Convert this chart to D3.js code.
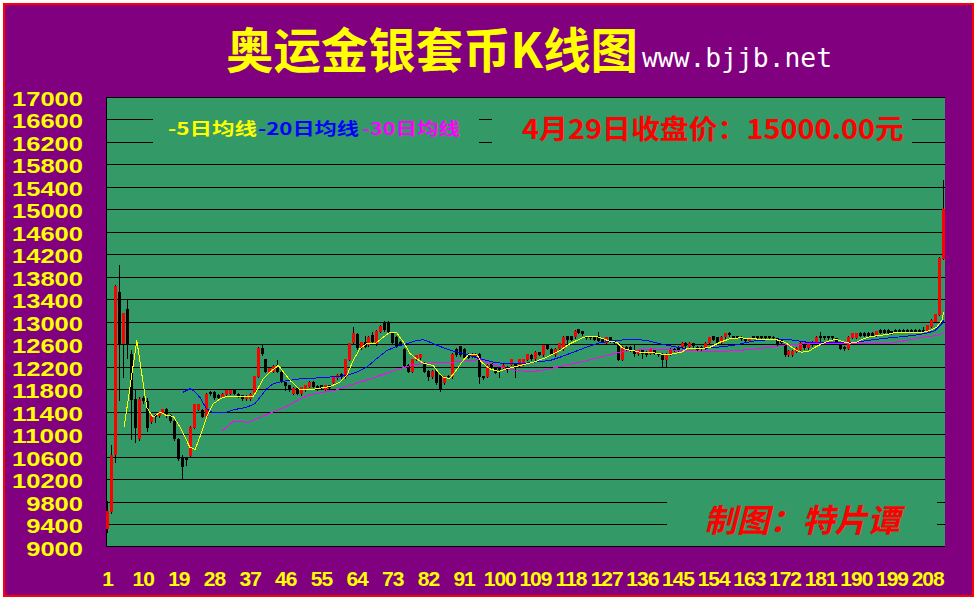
<!DOCTYPE html>
<html><head><meta charset="utf-8">
<script src="https://cdn.jsdelivr.net/npm/d3@7"></script>
<style>html,body{margin:0;padding:0;background:#fff;overflow:hidden}</style>
</head><body>
<svg id="c" width="977" height="600"></svg>
<script>
const opens = [
9310,9620,10620,13530,12600,13220,12420,11620,10920,11640,
11590,11220,11330,11320,11380,11440,11340,11240,10920,10600,
10580,10610,11110,11430,11430,11310,11740,11750,11700,11660,
11700,11720,11780,11720,11690,11620,11620,11720,12020,12530,
12330,12110,12110,12230,12110,11920,11870,11720,11820,11710,
11780,11840,11930,11860,11870,11780,11870,11910,11990,12070,
12010,12320,12610,12780,12530,12640,12580,12760,12600,12820,
12970,12970,12790,12730,12640,12520,12230,12110,12320,12350,
12270,12120,12010,12140,12050,11900,12040,12010,12520,12560,
12520,12430,12380,12380,12430,12030,12020,12260,12180,12200,
12170,12200,12230,12260,12220,12230,12320,12410,12330,12450,
12400,12580,12520,12400,12510,12510,12740,12740,12720,12860,
12830,12740,12740,12740,12740,12700,12610,12720,12660,12610,
12320,12550,12550,12500,12420,12500,12460,12430,12490,12430,
12430,12320,12420,12520,12550,12540,12620,12540,12610,12550,
12550,12520,12610,12740,12720,12610,12720,12800,12740,12740,
12730,12700,12660,12740,12740,12740,12740,12740,12730,12700,
12680,12580,12400,12400,12460,12500,12580,12530,12640,12620,
12740,12740,12740,12740,12700,12580,12550,12520,12710,12710,
12800,12800,12800,12800,12750,12850,12850,12850,12830,12850,
12850,12850,12850,12850,12850,12850,12850,12820,12910,13000,
13120,14120];
const highs = [
9810,10800,13650,14000,13150,13380,12490,11780,11660,11680,
11640,11340,11350,11400,11450,11460,11350,11250,10930,10620,
10600,11140,11540,11540,11440,11730,11760,11760,11710,11730,
11790,11790,11790,11730,11700,11690,11730,12040,12540,12580,
12340,12190,12220,12310,12120,11930,11880,11830,11830,11840,
11880,11940,11940,11870,11880,11880,11880,12030,12060,12080,
12340,12620,12900,12790,12640,12740,12740,12810,12850,12930,
13010,13010,12800,12740,12650,12530,12240,12340,12410,12430,
12280,12130,12130,12150,12060,12040,12050,12440,12530,12570,
12530,12440,12440,12440,12440,12040,12240,12270,12190,12210,
12240,12210,12340,12270,12340,12340,12430,12420,12470,12460,
12590,12590,12530,12530,12620,12740,12750,12750,12850,12870,
12840,12750,12750,12750,12810,12710,12730,12730,12670,12620,
12560,12560,12560,12580,12510,12510,12470,12530,12500,12440,
12440,12440,12530,12530,12560,12630,12630,12630,12620,12560,
12560,12630,12730,12750,12730,12740,12800,12810,12750,12750,
12740,12710,12710,12750,12750,12750,12750,12750,12740,12710,
12690,12590,12490,12490,12540,12630,12590,12630,12650,12740,
12810,12750,12750,12750,12710,12590,12560,12740,12800,12800,
12810,12810,12810,12810,12840,12860,12860,12860,12840,12860,
12860,12860,12860,12860,12860,12860,12910,12940,13040,13140,
14140,15520];
const lows = [
9260,9600,10510,11600,12020,12350,10920,10860,10900,11560,
11050,11200,11220,11300,11370,11300,11220,10900,10540,10200,
10450,10600,11100,11420,11300,11300,11700,11630,11630,11650,
11690,11710,11710,11650,11610,11610,11610,11710,12010,12410,
12100,12100,12100,12100,11920,11780,11770,11710,11710,11700,
11770,11830,11830,11790,11800,11770,11800,11900,11980,12000,
12000,12310,12600,12520,12520,12540,12570,12630,12590,12810,
12840,12810,12600,12540,12580,12200,12100,12100,12310,12340,
12100,11960,12000,11890,11770,11890,12000,12000,12390,12390,
12350,12350,12370,12370,11910,11980,12010,12180,12080,12020,
12160,12110,12220,12020,12210,12220,12310,12320,12320,12400,
12390,12510,12420,12390,12500,12500,12580,12670,12710,12790,
12760,12690,12690,12670,12650,12630,12600,12630,12600,12310,
12310,12500,12480,12390,12410,12360,12390,12420,12420,12390,
12210,12210,12410,12480,12480,12530,12550,12530,12550,12490,
12500,12510,12600,12670,12600,12600,12710,12750,12700,12700,
12680,12650,12650,12700,12700,12700,12700,12700,12690,12590,
12610,12390,12390,12390,12450,12490,12520,12520,12570,12610,
12620,12690,12690,12690,12610,12510,12500,12510,12700,12700,
12740,12740,12740,12740,12740,12790,12790,12790,12780,12810,
12810,12810,12810,12810,12810,12810,12810,12810,12900,12990,
13110,14110];
const closes = [
9630,10620,13640,12600,13150,12600,11600,11110,11620,11580,
11110,11330,11310,11390,11440,11360,11230,10920,10560,10420,
10530,11130,11530,11530,11310,11720,11710,11640,11640,11720,
11780,11780,11720,11660,11620,11680,11720,12030,12530,12420,
12110,12180,12210,12110,11930,11860,11780,11820,11720,11830,
11870,11930,11840,11800,11810,11870,11810,12020,12050,12010,
12330,12610,12790,12530,12630,12550,12730,12640,12840,12920,
12850,12820,12610,12550,12590,12210,12110,12330,12400,12420,
12110,12010,12120,11900,11780,12030,12010,12430,12400,12400,
12360,12360,12430,12430,12020,11990,12230,12190,12090,12140,
12230,12140,12330,12200,12330,12330,12420,12330,12460,12410,
12580,12520,12430,12520,12610,12730,12680,12680,12840,12800,
12770,12700,12700,12680,12660,12640,12720,12640,12610,12320,
12550,12510,12490,12420,12500,12430,12400,12520,12430,12400,
12320,12430,12520,12490,12490,12620,12560,12620,12560,12500,
12510,12620,12720,12680,12610,12730,12790,12760,12710,12710,
12690,12660,12700,12710,12710,12710,12710,12710,12700,12600,
12620,12400,12480,12480,12530,12620,12530,12620,12580,12730,
12700,12700,12700,12700,12620,12520,12510,12730,12790,12790,
12750,12750,12750,12750,12830,12800,12800,12800,12790,12820,
12820,12820,12820,12820,12820,12820,12820,12930,13030,13130,
14130,15000];

// moving-average lines as (candle position, price)
const ma5Idx = [5.2,8.4,10.9,12.5,14.3,15.9,17.6,19.3,21.8,23.1,24.3,26,27.7,29.4,31.1,34.4,37.8,38.7,40.3,42,44.1,47.1,49.6,52.1,54.6,57.2,59.7,61.4,63,64.7,66.4,68.5,70.6,72.3,74,75.7,77.4,79,80.7,83.2,84.5,85.8,87.4,88.7,90.4,92.1,94.2,95.4,97.5,99.6,101.8,105.1,108.5,111.9,115.2,117.7,120.3,121.9,124.5,126.1,127.8,129.5,130.8,132,133.7,135.4,137.9,140.4,142.1,143.8,145.9,147.2,150.5,153.1,155.6,158.1,160.6,166.5,169.9,172,173.7,175,176.2,177.9,179.6,181.3,183.4,185,187.1,188.4,190.1,191.8,193.5,196,198.5,200.2,206.9,208.6,210.3,211.6,212];
const ma5Val = [11130,12670,11485,11308,11396,11338,11325,11130,10774,10733,10952,11308,11546,11635,11681,11681,11681,11782,11990,12108,12227,11960,11795,11795,11823,11853,11930,12049,12316,12524,12613,12613,12730,12819,12808,12641,12435,12346,12268,12227,12108,12008,12001,12108,12285,12417,12422,12285,12168,12120,12168,12227,12285,12374,12493,12613,12701,12742,12742,12701,12659,12641,12552,12506,12493,12463,12463,12435,12417,12435,12463,12524,12524,12552,12641,12701,12719,12689,12684,12641,12552,12493,12463,12476,12552,12613,12671,12689,12641,12623,12641,12701,12742,12760,12790,12819,12819,12849,12908,13027,13174];
const ma20Idx = [20.1,21.8,22.7,24.3,26,27.3,31.1,32.8,36.1,38.2,39.5,41.2,42.8,45.4,49.6,54.6,58.9,61.4,63.9,66.4,68.9,71.5,74,76.5,79,80.7,82.4,84.9,88.3,91.7,95,98.4,101.8,105.1,108.5,112.7,115.2,118.6,121.9,125.3,128.7,132,135.4,137.9,140.4,143.8,147.2,150.5,154.8,158.9,161.5,164.9,169,172.8,177.5,181.7,185.9,190.1,192.6,196,200.2,204.4,207.8,209.9,211.6,212];
const ma20Val = [11752,11813,11782,11663,11457,11396,11396,11439,11485,11546,11663,11813,11901,11948,11990,12008,12031,12049,12108,12197,12346,12493,12565,12613,12671,12684,12641,12565,12481,12422,12346,12285,12257,12257,12285,12316,12374,12463,12552,12630,12671,12684,12684,12659,12613,12565,12524,12524,12552,12582,12623,12671,12689,12689,12641,12641,12630,12641,12671,12701,12730,12760,12801,12849,12968,13027];
const ma30Idx = [30,31.5,32.8,35.3,36.1,38.7,41.2,43.7,46.2,49.6,52.1,55.5,58.9,61.4,64.7,68.1,71.5,74.8,78.2,81.6,84.9,88.3,91.7,95,98.4,101.8,105.1,108.5,112.7,116.9,121.1,125.3,128.7,132,135.4,138.8,142.1,147.2,152.2,157.3,162.3,168.2,172.4,177.5,182.5,187.6,191.8,198.5,202.7,206.9,210.3,212];
const ma30Val = [11059,11160,11236,11236,11208,11279,11356,11427,11498,11635,11706,11752,11795,11853,11930,12008,12090,12168,12244,12268,12275,12285,12316,12328,12244,12168,12130,12120,12168,12239,12298,12374,12435,12481,12506,12524,12506,12493,12476,12481,12506,12552,12595,12613,12613,12613,12613,12623,12671,12730,12760,12801];

const yTicks = [9000,9400,9800,10200,10600,11000,11400,11800,12200,12600,13000,13400,13800,14200,14600,15000,15400,15800,16200,16600,17000];
const xTicks = [1,10,19,28,37,46,55,64,73,82,91,100,109,118,127,136,145,154,163,172,181,190,199,208];

const titleText = "奥运金银套币K线图";
const siteText = "www.bjjb.net";
const legendItems = ["-5日均线","-20日均线","-30日均线"];
const priceNote = "4月29日收盘价：15000.00元";
const authorNote = "制图：特片谭";

const svg = d3.select("#c");
const W = 977, H = 600;
const N = closes.length;
const x = d3.scaleLinear().domain([1, N]).range([107.5, 943.5]);
const y = d3.scaleLinear().domain([9000, 17000]).range([547, 97]);
const plotL = 106, plotR = 945, plotT = Math.floor(y(17000)), plotB = 546;

svg.append("rect").attr("width", W).attr("height", H).attr("fill", "#ffffff");
svg.append("rect").attr("x", 4).attr("y", 4).attr("width", 969).attr("height", 592)
  .attr("fill", "#800080").attr("stroke", "#ff0000").attr("stroke-width", 2);

// plot background
svg.append("rect").attr("x", plotL).attr("y", plotT).attr("width", plotR - plotL).attr("height", plotB - plotT)
  .attr("fill", "#339966");

// grid lines
svg.append("g").selectAll("rect").data(yTicks.filter(v => v > 9000)).join("rect")
  .attr("x", plotL).attr("width", plotR - plotL)
  .attr("y", v => Math.floor(y(v))).attr("height", 1).attr("fill", "#000");

// green text boxes that hide grid lines
const boxes = [[153, 106, 326, 42], [492, 106, 420, 42], [667, 494, 270, 40]];
svg.append("g").selectAll("rect").data(boxes).join("rect")
  .attr("x", d => d[0]).attr("y", d => d[1]).attr("width", d => d[2]).attr("height", d => d[3])
  .attr("fill", "#339966");

// plot border
svg.append("rect").attr("x", plotL).attr("y", plotT).attr("width", 1).attr("height", plotB - plotT + 1).attr("fill", "#000");
svg.append("rect").attr("x", plotL).attr("y", plotB).attr("width", plotR - plotL).attr("height", 1).attr("fill", "#000");

// candles
const data = closes.map((c, i) => ({i: i + 1, o: opens[i], h: highs[i], l: lows[i], c}));
const cg = svg.append("g");
data.forEach(d => {
  const left = Math.round(x(d.i) - 1.5);
  const yh = Math.floor(y(d.h)), yl = Math.floor(y(d.l));
  cg.append("rect").attr("x", left + 1).attr("y", yh).attr("width", 1).attr("height", Math.max(1, yl - yh + 1)).attr("fill", "#000");
  const top = Math.floor(y(Math.max(d.o, d.c))), bot = Math.floor(y(Math.min(d.o, d.c)));
  cg.append("rect").attr("x", left).attr("y", top).attr("width", 3).attr("height", Math.max(1, bot - top))
    .attr("fill", d.c >= d.o ? "#ff0000" : "#000000");
});

// MA lines
const line = d3.line().x(d => x(d[0])).y(d => y(d[1]));
[[ma30Idx, ma30Val, "#ff00ff"], [ma20Idx, ma20Val, "#0000ff"], [ma5Idx, ma5Val, "#ffff00"]].forEach(([ix, vv, col]) => {
  svg.append("path").datum(ix.map((k, j) => [k, vv[j]])).attr("d", line)
    .attr("fill", "none").attr("stroke", col).attr("stroke-width", 1).attr("shape-rendering", "crispEdges");
});

// title
svg.append("text").attr("x", 226).attr("y", 68).text(titleText)
  .attr("font-family", "'Noto Sans CJK SC'").attr("font-weight", "bold").attr("font-size", 48)
  .attr("fill", "#ffff00").attr("textLength", 412).attr("lengthAdjust", "spacingAndGlyphs");
svg.append("text").attr("x", 642).attr("y", 67).text(siteText)
  .attr("font-family", "'DejaVu Sans Mono'").attr("font-size", 26).attr("fill", "#ffffff")
  .attr("textLength", 190).attr("lengthAdjust", "spacingAndGlyphs");

// y axis labels
svg.append("g").selectAll("text").data(yTicks).join("text")
  .attr("x", 83).attr("y", v => Math.floor(y(v)) + 9)
  .attr("text-anchor", "end").text(v => v)
  .attr("textLength", v => String(v).length * 14.2).attr("lengthAdjust", "spacingAndGlyphs")
  .attr("font-family", "'Liberation Sans'").attr("font-weight", "bold").attr("font-size", 19.5)
  .attr("fill", "#ffff00");

// x axis labels
svg.append("g").selectAll("text").data(xTicks).join("text")
  .attr("x", k => x(k)).attr("y", 586).attr("text-anchor", "middle").text(k => k)
  .attr("font-family", "'Liberation Sans'").attr("font-weight", "bold").attr("font-size", 21)
  .attr("letter-spacing", -1).attr("fill", "#ffff00");

// legend
const legendPos = [[168, 89, "#ffff00"], [258, 101, "#0000ff"], [362, 98, "#ff00ff"]];
svg.append("g").selectAll("text").data(legendItems).join("text")
  .attr("x", (d, j) => legendPos[j][0]).attr("y", 135).text(d => d)
  .attr("textLength", (d, j) => legendPos[j][1]).attr("lengthAdjust", "spacingAndGlyphs")
  .attr("font-family", "'Noto Sans CJK SC'").attr("font-weight", "bold").attr("font-size", 17)
  .attr("fill", (d, j) => legendPos[j][2]);

svg.append("text").attr("x", 522).attr("y", 139).text(priceNote)
  .attr("textLength", 382).attr("lengthAdjust", "spacingAndGlyphs")
  .attr("font-family", "'Noto Sans CJK SC'").attr("font-weight", "bold").attr("font-size", 27)
  .attr("fill", "#ff0000");

svg.append("text").attr("x", 0).attr("y", 0).text(authorNote)
  .attr("transform", "translate(704,532) skewX(-14)")
  .attr("textLength", 196).attr("lengthAdjust", "spacingAndGlyphs")
  .attr("font-family", "'Noto Sans CJK SC'").attr("font-weight", "bold").attr("font-size", 32)
  .attr("fill", "#ff0000");
</script>
</body></html>
